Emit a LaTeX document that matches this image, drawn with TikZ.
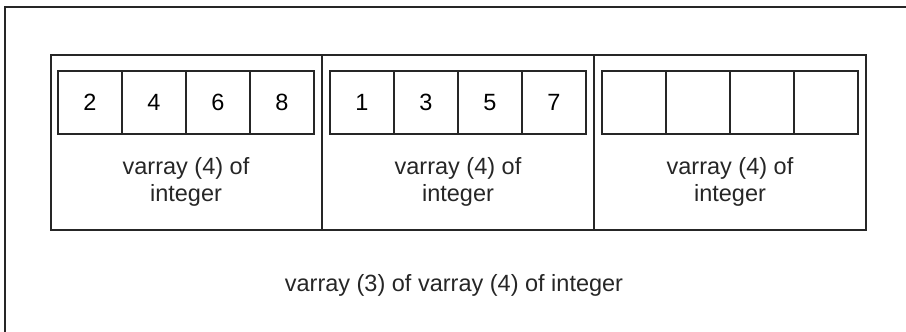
\documentclass[tikz,border=0pt]{standalone}
\usepackage{fontspec}
\setmainfont{Liberation Sans}
\begin{document}
\begin{tikzpicture}[x=1pt,y=-1pt,
  box/.style={draw=black!85,line width=2.6pt,inner sep=0pt,outer sep=0pt,minimum width=#1},
  cell/.style={draw=black!85,line width=2.6pt,inner sep=0pt,outer sep=0pt,minimum width=64pt,minimum height=63pt,anchor=north west,font=\fontsize{23.5}{27}\selectfont},
  lbl/.style={align=center,font=\fontsize{23.5}{27}\selectfont,text=black!85},
  ln/.style={draw=black!85,line width=2.6pt}]
\useasboundingbox (0,0) rectangle (906,332);
\clip (0,0) rectangle (906,332);
% outer box (extends past right and bottom edges)
\node[box, anchor=north west, minimum width=920pt, minimum height=340pt] (outer) at (5,7) {};
% middle box
\node[box, anchor=north west, minimum width=815pt, minimum height=175pt] (mid) at (51,55) {};
\coordinate (d1t) at (322,55); \coordinate (d1b) at (322,230);
\coordinate (d2t) at (594,55); \coordinate (d2b) at (594,230);
\draw[ln] (d1t) -- (d1b);
\draw[ln] (d2t) -- (d2b);
% cells group 1
\node[cell] (a1) at (58,71) {2};
\node[cell] (a2) at (122,71) {4};
\node[cell] (a3) at (186,71) {6};
\node[cell] (a4) at (250,71) {8};
% group 2
\node[cell] (b1) at (330,71) {1};
\node[cell] (b2) at (394,71) {3};
\node[cell] (b3) at (458,71) {5};
\node[cell] (b4) at (522,71) {7};
% group 3
\node[cell] (c1) at (602,71) {};
\node[cell] (c2) at (666,71) {};
\node[cell] (c3) at (730,71) {};
\node[cell] (c4) at (794,71) {};
% labels
\node[lbl] (la) at (186,182) {varray (4) of\\integer};
\node[lbl] (lb) at (458,182) {varray (4) of\\integer};
\node[lbl] (lc) at (730,182) {varray (4) of\\integer};
\node[lbl] (lo) at (454,285) {varray (3) of varray (4) of integer};
\end{tikzpicture}
\end{document}
